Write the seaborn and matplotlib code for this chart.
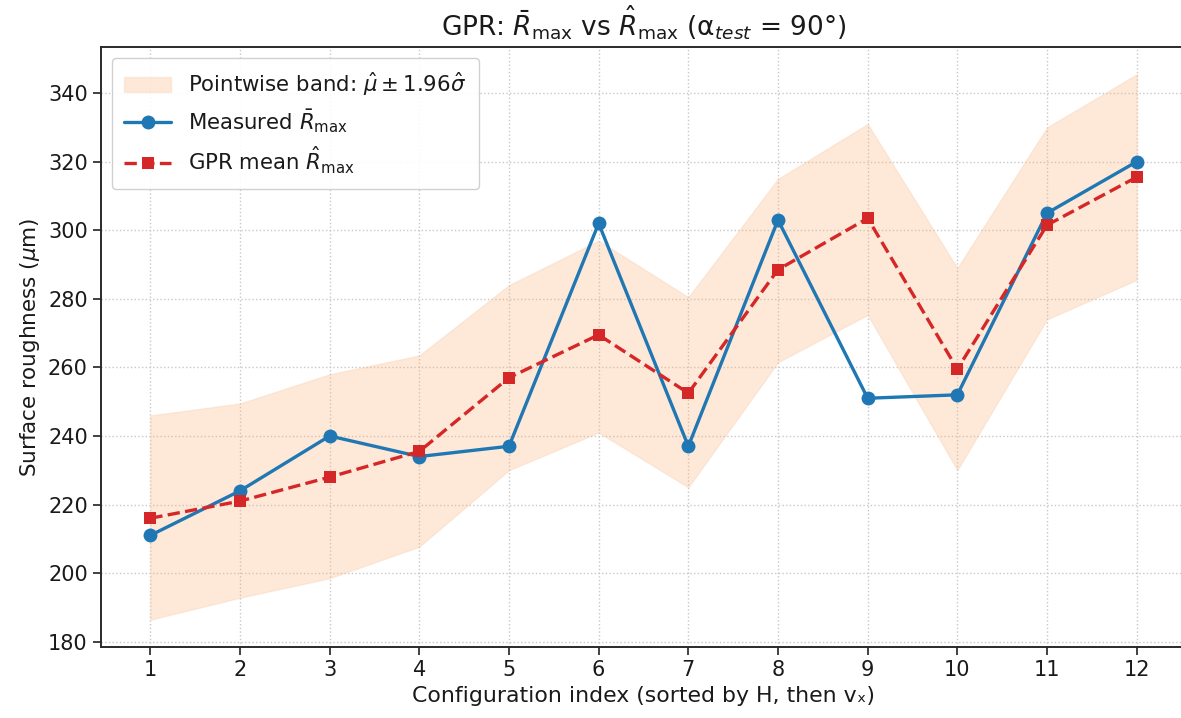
import numpy as np
import pandas as pd
import matplotlib
matplotlib.use("Agg")
import matplotlib.pyplot as plt
import seaborn as sns

config_index = [1, 2, 3, 4, 5, 6, 7, 8, 9, 10, 11, 12]
measured = [211, 224, 240, 234, 237, 302, 237, 303, 251, 252, 305, 320]
gpr_mean = [216, 221, 228, 235.5, 257, 269.5, 252.5, 288.5, 303.5, 259.5, 301.5, 315.5]
band_upper = [246, 249.5, 258, 263.5, 284, 297, 280.5, 315, 331, 289, 330, 345.5]
band_lower = [186.4, 192.8, 198.5, 207.7, 230, 241, 225, 261.5, 275.3, 230, 274, 285.5]

df = pd.DataFrame({"idx": config_index, "measured": measured, "gpr": gpr_mean,
                   "lo": band_lower, "hi": band_upper})

sns.set_style("ticks")
plt.rcParams["font.family"] = ["DejaVu Sans"]
plt.rcParams["text.color"] = "#1a1a1a"
plt.rcParams["axes.labelcolor"] = "#1a1a1a"
plt.rcParams["xtick.color"] = "#1a1a1a"
plt.rcParams["ytick.color"] = "#1a1a1a"

fig = plt.figure(figsize=(11.81, 7.18), dpi=100)
ax = fig.add_axes([101/1181, 1 - 647/718, (1186 - 101)/1181, (647 - 47)/718])

ax.fill_between(df["idx"], df["lo"], df["hi"], color="#fcb47c", alpha=0.3,
                linewidth=1.0, edgecolor="#f7cdaa",
                label=r"Pointwise band: $\hat{\mu} \pm 1.96\hat{\sigma}$")
sns.lineplot(data=df, x="idx", y="measured", ax=ax, color="#1f77b4", marker="o",
             markersize=10, linewidth=2.4, markeredgewidth=0,
             label=r"Measured $\bar{R}_{\max}$")
sns.lineplot(data=df, x="idx", y="gpr", ax=ax, color="#d62728", marker="s",
             markersize=9, linewidth=2.4, linestyle="--", markeredgewidth=0,
             label=r"GPR mean $\hat{R}_{\max}$")

ax.set_xticks(config_index)
ax.set_xticklabels([str(i) for i in config_index])
ax.margins(x=0.05, y=0.05)
ax.grid(True, linestyle=":", color="#c8c8c8", linewidth=1.0)
ax.tick_params(labelsize=15, length=6, width=1.3, color="#333333")
for s in ax.spines.values():
    s.set_color("#2a2a2a")
    s.set_linewidth(1.4)

ax.set_xlabel("Configuration index (sorted by H, then v\u2093)", fontsize=15.8)
ax.set_ylabel(r"Surface roughness ($\mu$m)", fontsize=15.5)
ax.set_title(r"GPR: $\bar{R}_{\max}$ vs $\hat{R}_{\max}$ (α$_{test}$ = 90°)", fontsize=19, pad=8)

ax.legend(loc="upper left", fontsize=15.3, frameon=True, framealpha=0.9,
          borderpad=0.6, handlelength=2.2, labelspacing=0.45)

fig.savefig("out.png", dpi=100)
